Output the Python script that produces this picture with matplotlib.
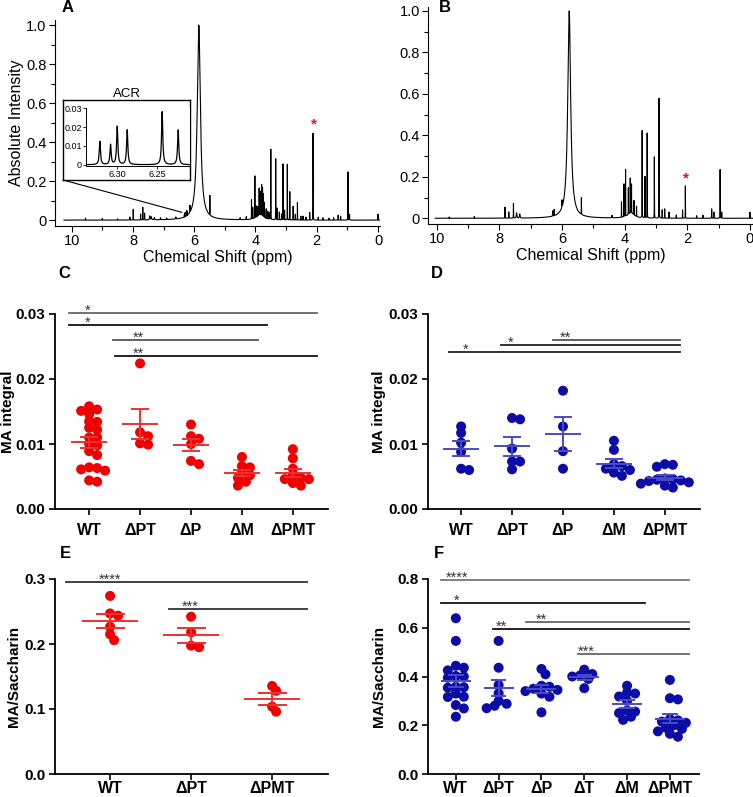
import numpy as np
import matplotlib
matplotlib.use("Agg")
import matplotlib.pyplot as plt
from matplotlib.patches import ConnectionPatch

plt.rcParams['font.family'] = ['Liberation Sans', 'DejaVu Sans']

W, H = 753, 797

# ---------------- NMR spectrum A: peak list (ppm, height, width in ppm) ----------------
a_ppm = [5.85, 6.14, 5.49, 7.99, 7.75, 7.68, 7.62, 7.45, 7.40, 7.30, 8.10, 9.55, 9.00, 8.50,
         6.60, 6.90, 7.10, 4.13, 4.09, 4.02, 3.98, 3.93, 3.88, 3.84, 3.80, 3.77, 3.74, 3.71,
         3.65, 3.60, 3.55, 3.85, 3.50, 3.34, 3.30, 3.22, 3.10, 3.05, 2.96, 2.88, 2.77, 2.70,
         2.63, 2.45, 2.23, 2.12, 1.95, 1.80, 1.60, 1.30, 1.22, 0.98, 0.93, 0.00, 4.50, 4.30,
         3.15, 2.52, 2.35, 1.45]
a_height = [1.0, 0.035, 0.10, 0.055, 0.03, 0.065, 0.035, 0.02, 0.015, 0.012, 0.015, 0.01, 0.008, 0.006,
            0.01, 0.008, 0.01, 0.10, 0.06, 0.217, 0.06, 0.05, 0.14, 0.12, 0.16, 0.15, 0.12, 0.08,
            0.05, 0.04, 0.035, 0.025, 0.364, 0.316, 0.06, 0.04, 0.287, 0.05, 0.287, 0.145, 0.07, 0.03,
            0.09, 0.02, 0.04, 0.448, 0.015, 0.012, 0.01, 0.025, 0.02, 0.248, 0.03, 0.03, 0.01, 0.015,
            0.03, 0.02, 0.015, 0.012]
a_width = [0.12, 0.006, 0.004, 0.005, 0.005, 0.005, 0.005, 0.02, 0.02, 0.02, 0.005, 0.005, 0.005, 0.005,
           0.01, 0.01, 0.01, 0.004, 0.004, 0.004, 0.005, 0.005, 0.004, 0.004, 0.004, 0.004, 0.004, 0.005,
           0.005, 0.006, 0.006, 0.25, 0.004, 0.004, 0.004, 0.004, 0.004, 0.004, 0.004, 0.004, 0.004, 0.004,
           0.004, 0.005, 0.004, 0.004, 0.005, 0.005, 0.005, 0.006, 0.006, 0.004, 0.006, 0.004, 0.01, 0.005,
           0.004, 0.004, 0.004, 0.005]

# ACR multiplet (inset of A)
acr_ppm = [6.3217, 6.3083, 6.3000, 6.2875, 6.2438, 6.2238]
acr_height = [0.0124, 0.0106, 0.0203, 0.0185, 0.0282, 0.0185]
acr_width = [0.0018, 0.0018, 0.0018, 0.0018, 0.0018, 0.0018]

# ---------------- NMR spectrum B ----------------
b_ppm = [5.77, 6.00, 5.38, 7.82, 7.70, 7.55, 7.45, 7.35, 6.25, 6.30, 4.10, 4.02, 3.97, 3.88,
         3.82, 3.78, 3.70, 3.62, 3.80, 3.44, 3.35, 3.28, 3.05, 2.90, 2.80, 2.72, 2.58, 2.15,
         2.06, 1.22, 1.15, 0.95, 0.90, 0.00, 4.40, 1.70, 1.50, 2.35, 8.80, 9.60]
b_height = [1.0, 0.035, 0.08, 0.053, 0.03, 0.07, 0.025, 0.02, 0.03, 0.025, 0.075, 0.16, 0.225, 0.13,
            0.17, 0.14, 0.07, 0.05, 0.025, 0.42, 0.20, 0.41, 0.295, 0.58, 0.04, 0.045, 0.03, 0.04,
            0.156, 0.045, 0.03, 0.236, 0.03, 0.03, 0.012, 0.012, 0.015, 0.015, 0.008, 0.006]
b_width = [0.11, 0.006, 0.004, 0.005, 0.005, 0.005, 0.02, 0.02, 0.005, 0.005, 0.004, 0.004, 0.004, 0.004,
           0.004, 0.004, 0.005, 0.005, 0.25, 0.004, 0.004, 0.004, 0.004, 0.004, 0.004, 0.004, 0.004, 0.004,
           0.004, 0.006, 0.006, 0.004, 0.006, 0.004, 0.01, 0.005, 0.005, 0.005, 0.005, 0.005]

# ---------------- C: MA integral (red) ----------------
c_groups = ['WT', 'ΔPT', 'ΔP', 'ΔM', 'ΔPMT']
c_wt = [0.0151, 0.0158, 0.0153, 0.0146, 0.0135, 0.0134, 0.0122, 0.0125, 0.0110, 0.0110,
        0.0100, 0.0089, 0.0083, 0.0064, 0.0059, 0.0063, 0.0061, 0.0044, 0.0042, 0.0098]
c_dpt = [0.0224, 0.0112, 0.0118, 0.0099, 0.0101]
c_dp = [0.0130, 0.0108, 0.0112, 0.0100, 0.0069, 0.0074]
c_dm = [0.0066, 0.0064, 0.0080, 0.0056, 0.0048, 0.0052, 0.0042, 0.0036]
c_dpmt = [0.0092, 0.0078, 0.0062, 0.0048, 0.0046, 0.0046, 0.0036, 0.0040, 0.0052]

# ---------------- D: MA integral (blue) ----------------
d_groups = ['WT', 'ΔPT', 'ΔP', 'ΔM', 'ΔPMT']
d_wt = [0.0117, 0.0127, 0.0102, 0.0088, 0.0060, 0.0062]
d_dpt = [0.0138, 0.0140, 0.0093, 0.0073, 0.0073, 0.0061]
d_dp = [0.0182, 0.0127, 0.0089, 0.0062]
d_dm = [0.0105, 0.0091, 0.0069, 0.0066, 0.0060, 0.0062, 0.0056, 0.0051]
d_dpmt = [0.0068, 0.0065, 0.0069, 0.0047, 0.0046, 0.0045, 0.0044, 0.0043, 0.0041, 0.0039, 0.0036, 0.0033]

# ---------------- E: MA/Saccharin (red) ----------------
e_groups = ['WT', 'ΔPT', 'ΔPMT']
e_wt = [0.274, 0.247, 0.2435, 0.2266, 0.215, 0.206]
e_dpt = [0.242, 0.218, 0.195, 0.1975]
e_dpmt = [0.1354, 0.128, 0.0959, 0.1036]

# ---------------- F: MA/Saccharin (blue) ----------------
f_groups = ['WT', 'ΔPT', 'ΔP', 'ΔT', 'ΔM', 'ΔPMT']
f_wt = [0.639, 0.546, 0.444, 0.436, 0.425, 0.402, 0.395, 0.400, 0.358, 0.354, 0.356,
        0.317, 0.316, 0.330, 0.283, 0.269, 0.235]
f_dpt = [0.546, 0.436, 0.365, 0.331, 0.288, 0.280, 0.270, 0.300]
f_dp = [0.409, 0.431, 0.362, 0.358, 0.350, 0.345, 0.340, 0.330, 0.317, 0.253]
f_dt = [0.428, 0.405, 0.410, 0.400, 0.390, 0.352]
f_dm = [0.362, 0.334, 0.330, 0.318, 0.300, 0.260, 0.256, 0.250, 0.235, 0.222]
f_dpmt = [0.386, 0.311, 0.306, 0.225, 0.220, 0.215, 0.210, 0.200, 0.190, 0.185, 0.175, 0.165, 0.153]

# significance bars: (y, x from, x to, stars, star x, colour)
c_sig = [(0.0302, -0.39, 4.47, '*', -0.02, '#666666'),
         (0.0283, -0.39, 3.49, '*', -0.02, '#111111'),
         (0.0260, 0.47, 3.31, '**', 0.96, '#555555'),
         (0.0236, 0.51, 4.47, '**', 0.96, '#111111')]
d_sig = [(0.0241, -0.24, 4.29, '*', 0.09, '#222222'),
         (0.0252, 0.78, 4.29, '*', 0.98, '#222222'),
         (0.0260, 1.80, 4.29, '**', 2.05, '#555555')]
e_sig = [(0.295, -0.54, 2.43, '****', 0.0, '#333333'),
         (0.2544, 0.73, 2.43, '***', 0.99, '#333333')]
f_sig = [(0.796, -0.35, 5.45, '****', 0.02, '#777777'),
         (0.700, -0.35, 4.42, '*', 0.02, '#111111'),
         (0.622, 1.65, 5.45, '**', 2.0, '#666666'),
         (0.594, 0.87, 5.45, '**', 1.07, '#111111'),
         (0.492, 2.85, 5.45, '***', 3.05, '#666666')]

RED, RED_LINE = '#f00000', '#f03030'
BLUE, BLUE_LINE = '#0c0ca6', '#4a4ac8'


def box(l, t, r, b):
    return [l / W, 1 - b / H, (r - l) / W, (b - t) / H]


def spectrum(x, ppm, height, width):
    y = np.zeros_like(x)
    for p, h, w in zip(ppm, height, width):
        y += h / (1 + ((x - p) / (w / 2)) ** 2)
    return y


def swarm_offsets(vals, px_x, px_y, d=10.0):
    vals = np.asarray(vals)
    offs = np.zeros(len(vals))
    placed = []
    cands = [0.0]
    for n in range(1, 40):
        cands += [n * d * 0.4, -n * d * 0.4]
    for i in np.argsort(-vals):
        yp = vals[i] * px_y
        for c in cands:
            if all((c - qx) ** 2 + (yp - qy) ** 2 >= (d * 0.62) ** 2 for qx, qy in placed):
                break
        placed.append((c, yp))
        offs[i] = c / px_x
    return offs


def spec_axes(ax, xlim, ylim):
    ax.set_xlim(*xlim)
    ax.set_ylim(*ylim)
    for s in ['top', 'right']:
        ax.spines[s].set_visible(False)
    ax.set_xticks([10, 8, 6, 4, 2, 0])
    ax.set_xticks([9, 7, 5, 3, 1], minor=True)
    ax.set_yticks([0, 0.2, 0.4, 0.6, 0.8, 1.0])
    ax.set_yticklabels(['0', '0.2', '0.4', '0.6', '0.8', '1.0'])
    ax.set_yticks([0.1, 0.3, 0.5, 0.7, 0.9], minor=True)
    ax.tick_params(labelsize=10.5, length=4, width=0.8, pad=2)
    ax.tick_params(which='minor', length=3, width=0.8)
    ax.set_xlabel('Chemical Shift (ppm)', fontsize=11.5, labelpad=1)


def dot_panel(ax, groups, data, xlim, ylim, yticks, yfmt, ylabel, color, lcolor, sig, label_px, xpad):
    ax.set_xlim(*xlim)
    ax.set_ylim(*ylim)
    pos = ax.get_position()
    px_x = pos.width * W / (xlim[1] - xlim[0])
    px_y = pos.height * H / (ylim[1] - ylim[0])
    for i, vals in enumerate(data):
        offs = swarm_offsets(vals, px_x, px_y)
        ax.scatter(i + offs, vals, s=52, color=color, edgecolors='none', zorder=2, clip_on=False)
        m = np.mean(vals)
        se = np.std(vals, ddof=1) / np.sqrt(len(vals))
        ax.hlines(m, i - 0.35, i + 0.35, color=lcolor, lw=1.4, zorder=3)
        ax.vlines(i, m - se, m + se, color=lcolor, lw=1.4, zorder=3)
        ax.hlines([m - se, m + se], i - 0.18, i + 0.18, color=lcolor, lw=1.4, zorder=3)
    for y, x0, x1, stars, sx, c in sig:
        ax.plot([x0, x1], [y, y], color=c, lw=1.3, clip_on=False, zorder=1)
        ax.annotate(stars, (sx, y), xytext=(0, -3.5), textcoords='offset points', color='#333333',
                    fontsize=10.5, ha='center', va='bottom', annotation_clip=False)
    for s in ['top', 'right']:
        ax.spines[s].set_visible(False)
    for s in ['left', 'bottom']:
        ax.spines[s].set_linewidth(1.3)
    ax.set_xticks(range(len(groups)))
    ax.set_xticklabels(groups, fontweight='bold', fontsize=11.5)
    ax.set_yticks(yticks)
    ax.set_yticklabels([yfmt.format(t) for t in yticks], fontweight='bold', fontsize=11)
    ax.tick_params(length=4, width=1.2, pad=3)
    ax.tick_params(axis='x', pad=xpad)
    ax.set_ylabel(ylabel, fontweight='bold', fontsize=11)
    ax.yaxis.set_label_coords((label_px - pos.x0 * W) / (pos.width * W), 0.5)


fig = plt.figure(figsize=(W / 100, H / 100), dpi=100)

# ---- panel A ----
axA = fig.add_axes(box(55, 20, 380, 226))
xa = np.linspace(10.25, -0.1, 24000)
axA.plot(xa, spectrum(xa, a_ppm, a_height, a_width) + spectrum(xa, acr_ppm, acr_height, acr_width),
         color='black', lw=0.8)
spec_axes(axA, (10.545, -0.065), (-0.03, 1.026))
axA.set_ylabel('Absolute Intensity', fontsize=11.5, labelpad=2)
axA.text(2.1, 0.455, '*', color='#e0102a', fontsize=11, ha='center', va='bottom', fontweight='bold')

frame = fig.add_axes(box(63, 100, 190, 180))
frame.set_xticks([])
frame.set_yticks([])
for s in frame.spines.values():
    s.set_linewidth(1.0)
frame.set_title('ACR', fontsize=9.5, pad=1)
axIn = fig.add_axes(box(86, 108.3, 190, 165.7))
xi = np.linspace(6.339, 6.209, 3000)
axIn.plot(xi, spectrum(xi, acr_ppm, acr_height, acr_width), color='black', lw=0.9)
axIn.set_xlim(6.339, 6.209)
axIn.set_ylim(-0.0005, 0.03)
axIn.set_xticks([6.30, 6.25])
axIn.set_xticklabels(['6.30', '6.25'])
axIn.set_yticks([0, 0.01, 0.02, 0.03])
axIn.set_yticklabels(['0', '0.01', '0.02', '0.03'])
axIn.tick_params(labelsize=6.5, length=2, width=0.6, pad=1)
for s in ['top', 'right']:
    axIn.spines[s].set_visible(False)
for s in ['left', 'bottom']:
    axIn.spines[s].set_linewidth(0.7)
con = ConnectionPatch(xyA=(0, 0), coordsA=frame.transAxes, xyB=(6.40, 0.04), coordsB=axA.transData,
                      color='black', lw=0.8)
fig.add_artist(con)

# ---- panel B ----
axB = fig.add_axes(box(428.3, 7, 753, 224))
xb = np.linspace(10.05, -0.1, 24000)
axB.plot(xb, spectrum(xb, b_ppm, b_height, b_width), color='black', lw=0.8)
spec_axes(axB, (10.27, -0.1), (-0.0275, 1.019))
axB.text(2.04, 0.16, '*', color='#e0102a', fontsize=11, ha='center', va='bottom', fontweight='bold')

# ---- panels C-F ----
axC = fig.add_axes(box(55, 314, 328, 509))
dot_panel(axC, c_groups, [c_wt, c_dpt, c_dp, c_dm, c_dpmt], (-0.67, 4.69), (0, 0.03),
          [0, 0.01, 0.02, 0.03], '{:.2f}', 'MA integral', RED, RED_LINE, c_sig, 15, 6)
axD = fig.add_axes(box(428, 314, 700, 509))
dot_panel(axD, d_groups, [d_wt, d_dpt, d_dp, d_dm, d_dpmt], (-0.65, 4.69), (0, 0.03),
          [0, 0.01, 0.02, 0.03], '{:.2f}', 'MA integral', BLUE, BLUE_LINE, d_sig, 386, 6)
axE = fig.add_axes(box(55, 579, 328, 774))
dot_panel(axE, e_groups, [e_wt, e_dpt, e_dpmt], (-0.68, 2.69), (0, 0.3),
          [0, 0.1, 0.2, 0.3], '{:.1f}', 'MA/Saccharin', RED, RED_LINE, e_sig, 21, 1)
axF = fig.add_axes(box(428, 579, 699, 774))
dot_panel(axF, f_groups, [f_wt, f_dpt, f_dp, f_dt, f_dm, f_dpmt], (-0.65, 5.68), (0, 0.8),
          [0, 0.2, 0.4, 0.6, 0.8], '{:.1f}', 'MA/Saccharin', BLUE, BLUE_LINE, f_sig, 386, 1)

# panel letters
for letter, x, y in [('A', 68, 8), ('B', 445, 8), ('C', 64, 274), ('D', 437, 274),
                     ('E', 65, 553), ('F', 439, 553)]:
    fig.text(x / W, 1 - y / H, letter, fontsize=12, fontweight='bold', ha='center', va='center')

fig.savefig('out.png', dpi=100)
